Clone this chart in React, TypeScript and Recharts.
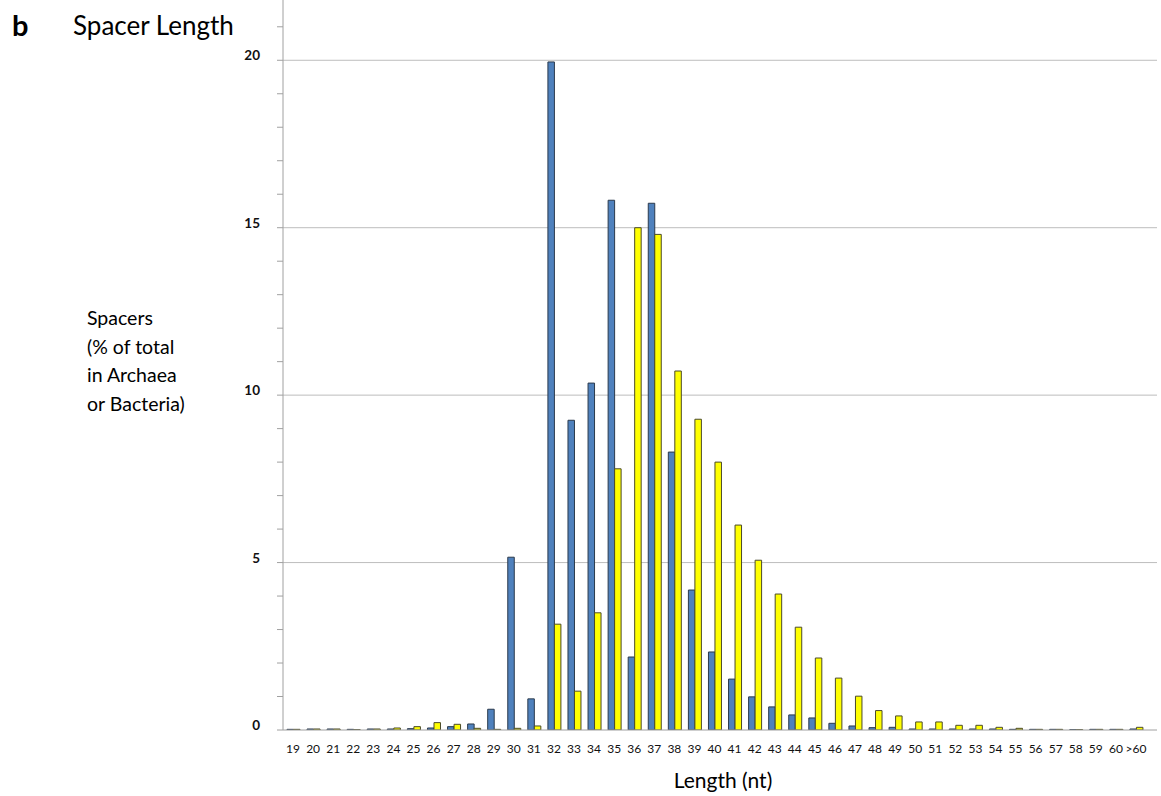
import React from "react"
import { Bar, BarChart, CartesianGrid, XAxis, YAxis } from "recharts"

const categories = [
  "19", "20", "21", "22", "23", "24", "25", "26", "27", "28", "29", "30", "31", "32", "33",
  "34", "35", "36", "37", "38", "39", "40", "41", "42", "43", "44", "45", "46", "47", "48",
  "49", "50", "51", "52", "53", "54", "55", "56", "57", "58", "59", "60", ">60",
]

// blue series
const blueValues = [
  0.02, 0.03, 0.03, 0.02, 0.03, 0.03, 0.04, 0.06, 0.1, 0.18, 0.62, 5.16, 0.93, 19.95, 9.25,
  10.36, 15.82, 2.18, 15.73, 8.3, 4.18, 2.33, 1.52, 0.99, 0.69, 0.45, 0.36, 0.2, 0.12, 0.07,
  0.08, 0.03, 0.03, 0.03, 0.03, 0.03, 0.02, 0.02, 0.02, 0.01, 0.02, 0.02, 0.03,
]

// yellow series
const yellowValues = [
  0.02, 0.03, 0.03, 0.01, 0.03, 0.06, 0.1, 0.22, 0.17, 0.05, 0.02, 0.05, 0.12, 3.16, 1.16,
  3.5, 7.8, 15.0, 14.8, 10.72, 9.28, 8.0, 6.12, 5.07, 4.06, 3.07, 2.15, 1.55, 1.01, 0.58,
  0.42, 0.24, 0.24, 0.14, 0.14, 0.08, 0.05, 0.02, 0.02, 0.01, 0.02, 0.02, 0.08,
]

const yTicks = Array.from({ length: 22 }, (_, i) => i)
const gridValues = [5, 10, 15, 20]

const data = categories.map((length, i) => ({
  length,
  blue: blueValues[i],
  yellow: yellowValues[i],
}))

const font = "Lato, 'Open Sans', sans-serif"

const YTick = (props: any) => {
  const { x, y, payload } = props
  if (payload.value % 5 !== 0) return null
  return (
    <text x={x - 15} y={y} textAnchor="end" fontSize={13.5} fontWeight={700} fill="#111" fontFamily={font}>
      {payload.value}
    </text>
  )
}

const XTick = (props: any) => {
  const { x, y, payload } = props
  return (
    <text x={x} y={y + 15} textAnchor="middle" fontSize={12} fill="#111" fontFamily={font}>
      {payload.value}
    </text>
  )
}

export default function App() {
  return (
    <div style={{ position: "absolute", left: 0, top: 0, width: 1161, height: 796, background: "#fff", fontFamily: font }}>
      <div style={{ position: "absolute", left: 12, top: 7, fontSize: 29, fontWeight: 700 }}>b</div>
      <div style={{ position: "absolute", left: 73, top: 9, fontSize: 26 }}>Spacer Length</div>
      <div style={{ position: "absolute", left: 87, top: 304, fontSize: 19.5, lineHeight: "28.5px" }}>
        Spacers
        <br />
        (% of total
        <br />
        in Archaea
        <br />
        or Bacteria)
      </div>
      <div style={{ position: "absolute", left: 0, width: 1446, top: 767, fontSize: 21, textAlign: "center" }}>
        Length (nt)
      </div>
      <div style={{ position: "absolute", left: 0, top: 0 }}>
        <BarChart
          width={1161}
          height={796}
          data={data}
          margin={{ top: 0, right: 4, left: 0, bottom: 0 }}
          barSize={6.5}
          barGap={0}
        >
          <CartesianGrid vertical={false} horizontalValues={gridValues} stroke="#bdbdbd" />
          <XAxis
            dataKey="length"
            interval={0}
            height={66}
            tickLine={false}
            axisLine={{ stroke: "#a0a0a0" }}
            tick={<XTick />}
            padding={{ left: 0, right: 11 }}
          />
          <YAxis
            width={283}
            domain={[0, 21.8]}
            ticks={yTicks}
            allowDataOverflow
            tickSize={6}
            tickLine={{ stroke: "#a0a0a0" }}
            axisLine={{ stroke: "#a0a0a0" }}
            tick={<YTick />}
            interval={0}
          />
          <Bar dataKey="blue" fill="#4f81bd" stroke="#2b3a4c" strokeWidth={1} isAnimationActive={false} />
          <Bar dataKey="yellow" fill="#ffff00" stroke="#4a4a2a" strokeWidth={1} isAnimationActive={false} />
        </BarChart>
      </div>
    </div>
  )
}
